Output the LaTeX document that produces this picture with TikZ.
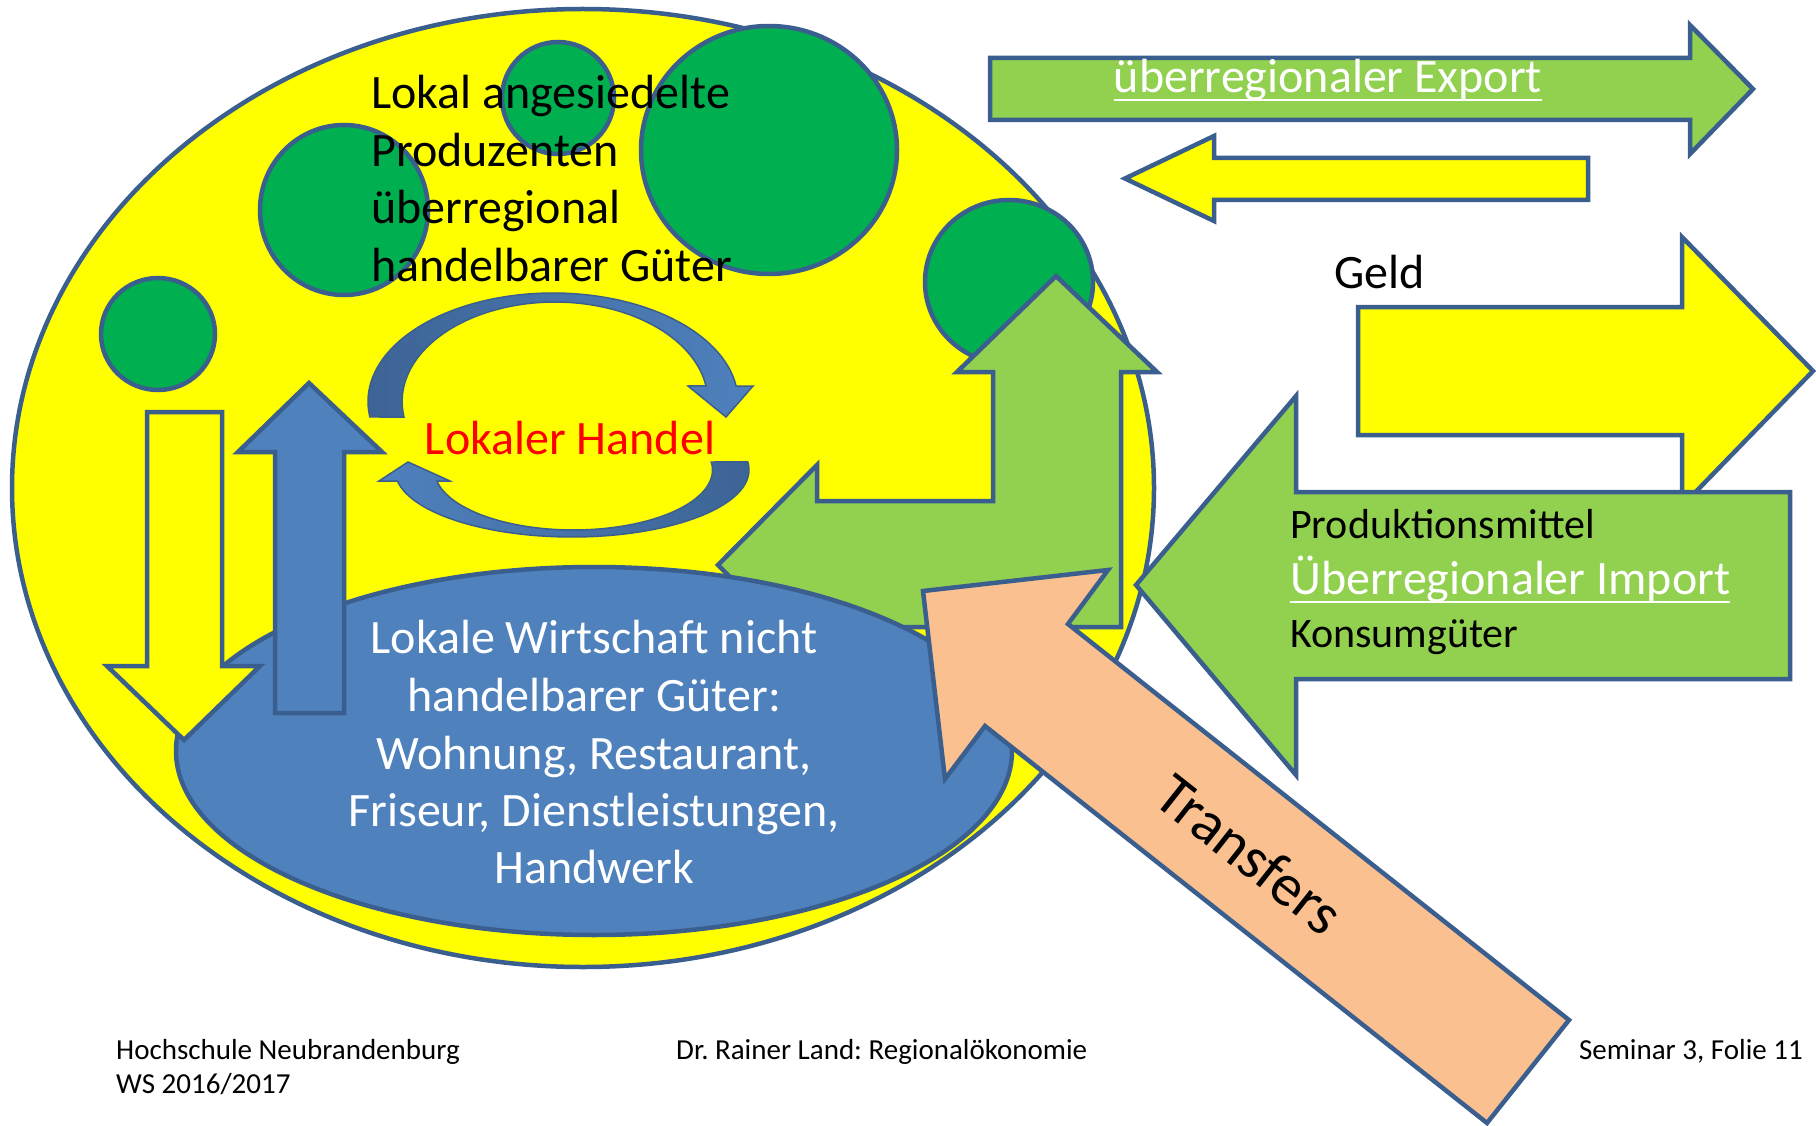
\documentclass[tikz,border=0pt]{standalone}
\usepackage{fontspec}
\setmainfont{Carlito}
\frenchspacing
\definecolor{edge}{HTML}{3A5F8E}
\definecolor{yel}{HTML}{FFFF00}
\definecolor{dgreen}{HTML}{00B050}
\definecolor{lgreen}{HTML}{92D050}
\definecolor{bblue}{HTML}{4F81BD}
\definecolor{dblue}{HTML}{3D6495}
\definecolor{peach}{HTML}{FAC090}
\definecolor{txtred}{HTML}{FF0000}
\begin{document}
\begin{tikzpicture}[x=1pt,y=-1pt,
  outl/.style={draw=edge, line width=4.5pt, line join=miter},
  thinoutl/.style={draw=edge, line width=1.5pt, line join=miter},
  txt/.style={inner sep=0pt, font=\fontsize{48}{57}\selectfont},
  smalltxt/.style={inner sep=0pt, font=\fontsize{42}{50}\selectfont},
  foot/.style={inner sep=0pt, font=\fontsize{29}{35}\selectfont},
  uline/.style={white, line width=2.5pt}]
\useasboundingbox (0,0) rectangle (1816,1126);
\fill[white] (0,0) rectangle (1816,1126);

% big yellow ellipse
\draw[outl, fill=yel] (583,488) ellipse [x radius=571pt, y radius=479pt];

% green circles
\draw[outl, fill=dgreen] (558,98) ellipse [x radius=56pt, y radius=56pt];
\draw[outl, fill=dgreen] (344,210) ellipse [x radius=84pt, y radius=85pt];
\draw[outl, fill=dgreen] (769,150) ellipse [x radius=128pt, y radius=124pt];
\draw[outl, fill=dgreen] (1009,282) ellipse [x radius=84pt, y radius=82pt];
\draw[outl, fill=dgreen] (158,334) ellipse [x radius=57pt, y radius=56pt];

% curved arrows (Lokaler Handel)
\path[thinoutl, left color=dblue, right color=bblue]
  plot[domain=171.8:351.8, samples=70] ({553+185*cos(\x)},{401.5+108.5*sin(\x)})
  -- (753,386) -- (726,417) -- (688,386)
  -- plot[domain=351:171, samples=70] ({555+152.9*cos(\x)},{401.5+99.5*sin(\x)}) -- cycle;
\path[thinoutl, left color=bblue, right color=dblue]
  plot[domain=-6.9:170.55, samples=70] ({572+177*cos(\x)},{470+67*sin(\x)})
  -- (379,481) -- (408,462) -- (450,481)
  -- plot[domain=169.4:-7.66, samples=70] ({573.5+139*cos(\x)},{470+60*sin(\x)}) -- cycle;

% green L-shaped arrow
\draw[outl, fill=lgreen] (1056,276) -- (1157,372) -- (1121,372) -- (1121,627) -- (817,627)
  -- (817,664) -- (718,565) -- (817,465) -- (817,501) -- (993,501) -- (993,372) -- (957,372) -- cycle;

% blue ellipse
\draw[outl, fill=bblue] (594,751) ellipse [x radius=418pt, y radius=184pt];

% vertical arrows
\draw[outl, fill=bblue] (309,383) -- (382,452) -- (344,452) -- (344,713) -- (275,713) -- (275,452) -- (238,452) -- cycle;
\draw[outl, fill=yel] (147,412) -- (222,412) -- (222,666) -- (260,666) -- (184,740) -- (107,666) -- (147,666) -- cycle;

% texts inside
\node[txt, anchor=base west] (p1) at (371,109) {Lokal angesiedelte};
\node[txt, anchor=base west] (p2) at (371,167) {Produzenten};
\node[txt, anchor=base west] (p3) at (371,224) {überregional};
\node[txt, anchor=base west] (p4) at (371,281) {handelbarer Güter};
\node[txt, anchor=base, text=txtred] (handel) at (570,454) {Lokaler Handel};
\node[txt, anchor=base, text=white] (w1) at (594,653) {Lokale Wirtschaft nicht};
\node[txt, anchor=base, text=white] (w2) at (594,711) {handelbarer Güter:};
\node[txt, anchor=base, text=white] (w3) at (594,769) {Wohnung, Restaurant,};
\node[txt, anchor=base, text=white] (w4) at (594,826) {Friseur, Dienstleistungen,};
\node[txt, anchor=base, text=white] (w5) at (594,883) {Handwerk};

% right side arrows
\draw[outl, fill=lgreen] (990,58) -- (1690,58) -- (1690,25) -- (1753,89) -- (1690,154) -- (1690,120) -- (990,120) -- cycle;
\draw[outl, fill=yel] (1588,158) -- (1214,158) -- (1214,136) -- (1125,178.5) -- (1214,221) -- (1214,200) -- (1588,200) -- cycle;
\draw[outl, fill=yel] (1358,307) -- (1682,307) -- (1682,237) -- (1813,371) -- (1682,506) -- (1682,435) -- (1358,435) -- cycle;
\draw[outl, fill=lgreen] (1790,492) -- (1296,492) -- (1296,396) -- (1136,585) -- (1296,775) -- (1296,679) -- (1790,679) -- cycle;

\node[txt, anchor=base, text=white] (export) at (1328,93) {überregionaler Export};
\draw[uline] ([yshift=-7pt]export.base west) -- ([yshift=-7pt]export.base east);
\node[txt, anchor=base west] (geld) at (1334,289) {Geld};
\node[smalltxt, anchor=base west] (prod) at (1290,538) {Produktionsmittel};
\node[txt, anchor=base west, text=white] (import) at (1290,594) {Überregionaler Import};
\draw[uline] ([yshift=-8pt]import.base west) -- ([yshift=-8pt]import.base east);
\node[smalltxt, anchor=base west] (konsum) at (1290,647) {Konsumgüter};

% transfers arrow
\draw[outl, fill=peach] (923,591) -- (1108,570) -- (1068,624) -- (1569,1020) -- (1487,1123) -- (985,726) -- (945,779) -- cycle;
\node[inner sep=0pt, font=\fontsize{60}{72}\selectfont, rotate=-38.3] (transfers) at (1250,854) {Transfers};

% footer
\node[foot, anchor=base west] (f1) at (116,1059) {Hochschule Neubrandenburg};
\node[foot, anchor=base west] (f2) at (116,1093) {WS 2016/2017};
\node[foot, anchor=base west] (f3) at (676,1059) {Dr. Rainer Land: Regionalökonomie};
\node[foot, anchor=base east] (f4) at (1803,1059) {Seminar 3, Folie 11};
\end{tikzpicture}
\end{document}
